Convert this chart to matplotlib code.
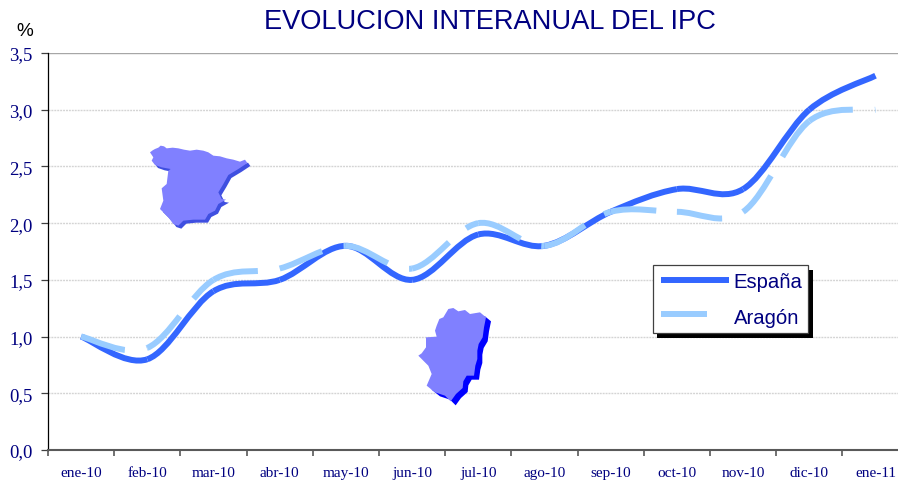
import numpy as np
import matplotlib
matplotlib.use('Agg')
import matplotlib.pyplot as plt
from matplotlib.path import Path
from matplotlib.patches import PathPatch, Polygon, Rectangle
from matplotlib.lines import Line2D
from matplotlib.transforms import Affine2D

plt.rcParams['lines.scale_dashes'] = False

meses = ['ene-10', 'feb-10', 'mar-10', 'abr-10', 'may-10', 'jun-10', 'jul-10',
         'ago-10', 'sep-10', 'oct-10', 'nov-10', 'dic-10', 'ene-11']
espana = [1.0, 0.8, 1.4, 1.5, 1.8, 1.5, 1.9, 1.8, 2.1, 2.3, 2.3, 3.0, 3.3]
aragon = [1.0, 0.9, 1.5, 1.6, 1.8, 1.6, 2.0, 1.8, 2.1, 2.1, 2.1, 2.9, 3.0]
yticks = [0.0, 0.5, 1.0, 1.5, 2.0, 2.5, 3.0, 3.5]

# siluetas, en pixeles de la imagen (x, y desde arriba)
silueta_espana = [(150, 70), (158, 64), (165, 60), (175, 56), (182, 50), (192, 52), (200, 58),
                  (218, 56), (235, 58), (252, 62), (270, 65), (290, 62), (310, 65), (325, 70),
                  (340, 80), (360, 82), (380, 88), (400, 92), (420, 98), (435, 92), (442, 102),
                  (415, 120), (385, 138), (370, 165), (355, 190), (365, 210), (378, 212),
                  (355, 225), (345, 245), (325, 255), (315, 272), (280, 272), (250, 275),
                  (235, 290), (220, 285), (205, 265), (190, 250), (180, 240), (190, 215),
                  (185, 178), (200, 165), (205, 125), (212, 120), (185, 115), (165, 108),
                  (155, 95), (160, 85)]
silueta_aragon = [(110, 95), (118, 75), (130, 70), (145, 45), (160, 42), (175, 52), (195, 48),
                  (210, 60), (240, 55), (258, 70), (252, 100), (248, 130), (236, 150),
                  (232, 170), (232, 195), (226, 215), (222, 245), (200, 245), (190, 262),
                  (188, 282), (168, 300), (152, 322), (135, 305), (105, 295), (80, 275),
                  (95, 240), (85, 215), (55, 185), (65, 178), (78, 160), (78, 130), (110, 128),
                  (105, 110)]

AZUL = '#3366FF'
CELESTE = '#99CCFF'
NAVY = '#000080'
W, H = 898, 485

fig = plt.figure(figsize=(W / 100, H / 100), dpi=100, facecolor='white')
ax = fig.add_axes([48 / W, (H - 451) / H, (W - 48) / W, (451 - 54) / H])
pix = Affine2D().scale(1, -1).translate(0, H)


def tramos(valores):
    # curva suavizada como en Excel, un bezier por cada tramo
    x = np.arange(len(valores)) + 0.5
    p = np.column_stack([x, valores])
    out = []
    for i in range(len(p) - 1):
        p0 = p[max(i - 1, 0)]
        p3 = p[min(i + 2, len(p) - 1)]
        c1 = p[i] + (p[i + 1] - p0) / 6
        c2 = p[i + 1] - (p3 - p[i]) / 6
        out.append(Path([p[i], c1, c2, p[i + 1]],
                        [Path.MOVETO, Path.CURVE4, Path.CURVE4, Path.CURVE4]))
    return out


for yt in yticks[1:]:
    if yt < 3.5:
        ax.axhline(yt, color='#D4D4D4', lw=1.0, linestyle=(0, (1.4, 0.7)), zorder=0)
    else:
        ax.axhline(yt, color='#A6A6A6', lw=1.0, zorder=0)

for seg in tramos(espana):
    ax.add_patch(PathPatch(seg, fill=False, edgecolor=AZUL, lw=4.3, capstyle='butt', zorder=2))
# Aragon: el patron de rayas vuelve a empezar en cada mes
for seg in tramos(aragon):
    ax.add_patch(PathPatch(seg, fill=False, edgecolor=CELESTE, lw=4.3, capstyle='butt',
                           linestyle=(0, (33, 16)), zorder=3))

ax.set_xlim(0, (W - 48) / 66.2)
ax.set_ylim(0, 3.5)
ax.set_xticks(np.arange(0, 13))
ax.set_xticklabels([])
for i, m in enumerate(meses):
    ax.text(i + 0.5, -0.2, m, ha='center', va='center', fontsize=11, color=NAVY,
            family='Liberation Serif')
ax.set_yticks(yticks)
ax.set_yticklabels([f'{v:.1f}'.replace('.', ',') for v in yticks], fontsize=13.5,
                   color=NAVY, family='Liberation Serif')
ax.tick_params(axis='y', length=5, width=0.9, color='#404040', pad=6)
ax.tick_params(axis='x', length=4, width=1.2, color='#595959')
for s in ['top', 'right']:
    ax.spines[s].set_visible(False)
ax.spines['left'].set_color('black')
ax.spines['left'].set_linewidth(0.9)
ax.spines['bottom'].set_color('#595959')
ax.spines['bottom'].set_linewidth(1.5)

fig.text(490 / W, 1 - 22 / H, 'EVOLUCION INTERANUAL DEL IPC', ha='center', va='center',
         fontsize=19.6, color=NAVY, family='Liberation Sans')
fig.text(25 / W, 1 - 31 / H, '%', ha='center', va='center', fontsize=13.7, color='black',
         family='Liberation Sans')

# mapas
esp = np.array(silueta_espana) / 3 + [100, 130]
ara = np.array(silueta_aragon) / 3 + [400, 295]
for pts, dx, dy, sombra in [(esp, 3, 3, '#3F4FE0'), (ara, 5, 4, '#0000FF')]:
    fig.add_artist(Polygon(pts + [dx, dy], closed=True, transform=pix, fc=sombra, ec='none', zorder=4))
    fig.add_artist(Polygon(pts, closed=True, transform=pix, fc='#8080FF', ec='none', zorder=5))

# leyenda
fig.add_artist(Rectangle((657, 271), 155.5, 68, transform=pix, fc='black', ec='none', zorder=6))
fig.add_artist(Rectangle((652.7, 266), 155.5, 68, transform=pix, fc='white', ec='#404040', lw=0.9, zorder=7))
fig.add_artist(Line2D([661, 729], [281, 281], transform=pix, color=AZUL, lw=4.3,
                      solid_capstyle='butt', zorder=8))
fig.add_artist(Line2D([661, 707], [315, 315], transform=pix, color=CELESTE, lw=4.3,
                      solid_capstyle='butt', zorder=8))
for y, t in [(283, 'España'), (318, 'Aragón')]:
    fig.text(733.5 / W, 1 - y / H, t, ha='left', va='center', fontsize=14.6, color=NAVY,
             family='Liberation Sans', zorder=9)

fig.savefig('out.png', dpi=100)
